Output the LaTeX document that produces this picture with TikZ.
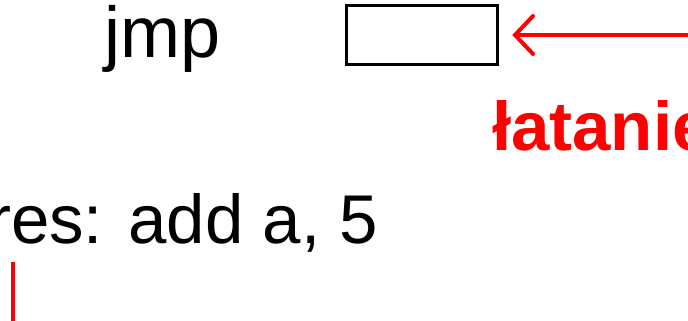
\documentclass[tikz,border=0pt]{standalone}
\usepackage{fontspec}
\setmainfont{Liberation Sans}
\usetikzlibrary{arrows.meta}
\begin{document}
\begin{tikzpicture}[x=0.5pt,y=-0.5pt,
  lbl/.style={inner sep=0pt,outer sep=0pt,font=\fontsize{36pt}{40pt}\selectfont},
  reslbl/.style={inner sep=0pt,outer sep=0pt,font=\fontsize{34.5pt}{38pt}\selectfont},
  redlbl/.style={inner sep=0pt,outer sep=0pt,text=red,font=\fontsize{34.5pt}{38pt}\selectfont\bfseries},
  slot/.style={draw=black,line width=1.5pt,minimum width=75.5pt,minimum height=29.5pt,inner sep=0pt,outer sep=0pt},
  redarrow/.style={draw=red,line width=2pt,-{Straight Barb[length=9pt,width=19pt,line cap=round]}},
  redline/.style={draw=red,line width=2pt}]
\useasboundingbox (0,0) rectangle (688,320);
\node[lbl,anchor=base] (jmp) at (162.5,58) {jmp};
\node[slot] (box) at (421.75,35) {};
\node[reslbl,anchor=base east] (res) at (378,243) {res: add a, 5};
\node[redlbl,anchor=base west] (lat) at (492,150) {łatanie};
\coordinate (src) at (720,35);
\draw[redarrow,shorten >=7.5pt] (src) -- (box.east);
\coordinate (vtop) at (13,262);
\coordinate (vbot) at (13,340);
\draw[redline] (vtop) -- (vbot);
\end{tikzpicture}
\end{document}
